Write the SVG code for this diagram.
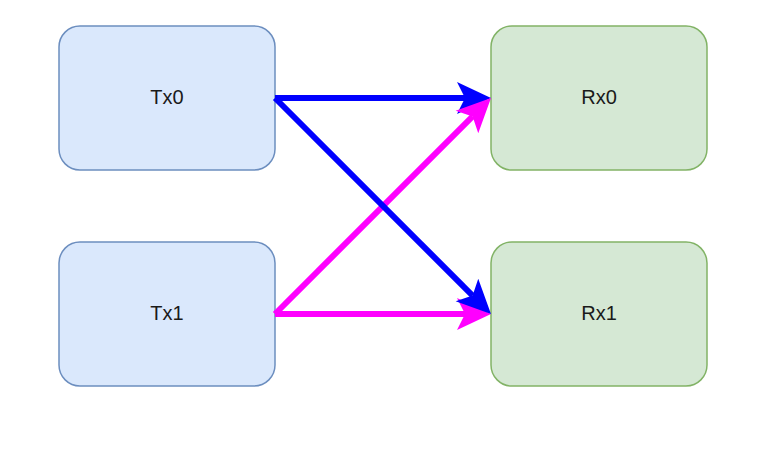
<svg xmlns="http://www.w3.org/2000/svg" width="772" height="451" viewBox="0 0 772 451">
<style>
.tx{fill:#dae8fc;stroke:#6c8ebf;stroke-width:1.5}
.rx{fill:#d5e8d4;stroke:#82b366;stroke-width:1.5}
.lbl{font-family:"Liberation Sans",Arial,sans-serif;font-size:20px;fill:#1a1a1a;text-anchor:middle}
.b{stroke:#0000ff;stroke-width:6;fill:none}
.m{stroke:#ff00ff;stroke-width:6;fill:none}
</style>
<defs>
<marker id="ab" markerUnits="userSpaceOnUse" viewBox="0 -16 34 32" refX="8" refY="0" markerWidth="34" markerHeight="32" orient="auto" overflow="visible">
<path d="M0,-16 L34,0 L0,16 L8,0 Z" fill="#0000ff"/>
</marker>
<marker id="am" markerUnits="userSpaceOnUse" viewBox="0 -16 34 32" refX="8" refY="0" markerWidth="34" markerHeight="32" orient="auto" overflow="visible">
<path d="M0,-16 L34,0 L0,16 L8,0 Z" fill="#ff00ff"/>
</marker>
</defs>
<g id="Tx0"><rect class="tx" x="59" y="26" width="216" height="144" rx="21"/><text class="lbl" x="167" y="104">Tx0</text></g>
<g id="Tx1"><rect class="tx" x="59" y="242" width="216" height="144" rx="21"/><text class="lbl" x="167" y="320">Tx1</text></g>
<g id="Rx0"><rect class="rx" x="491" y="26" width="216" height="144" rx="21"/><text class="lbl" x="599" y="104">Rx0</text></g>
<g id="Rx1"><rect class="rx" x="491" y="242" width="216" height="144" rx="21"/><text class="lbl" x="599" y="320">Rx1</text></g>
<g id="connectors">
<path class="b" d="M275,98 L465,98" marker-end="url(#ab)"/>
<path class="m" d="M275,314 L472.6,116.4" marker-end="url(#am)"/>
<path class="m" d="M275,314 L465,314" marker-end="url(#am)"/>
<path class="b" d="M275,98 L472.6,295.6" marker-end="url(#ab)"/>
</g>
</svg>
